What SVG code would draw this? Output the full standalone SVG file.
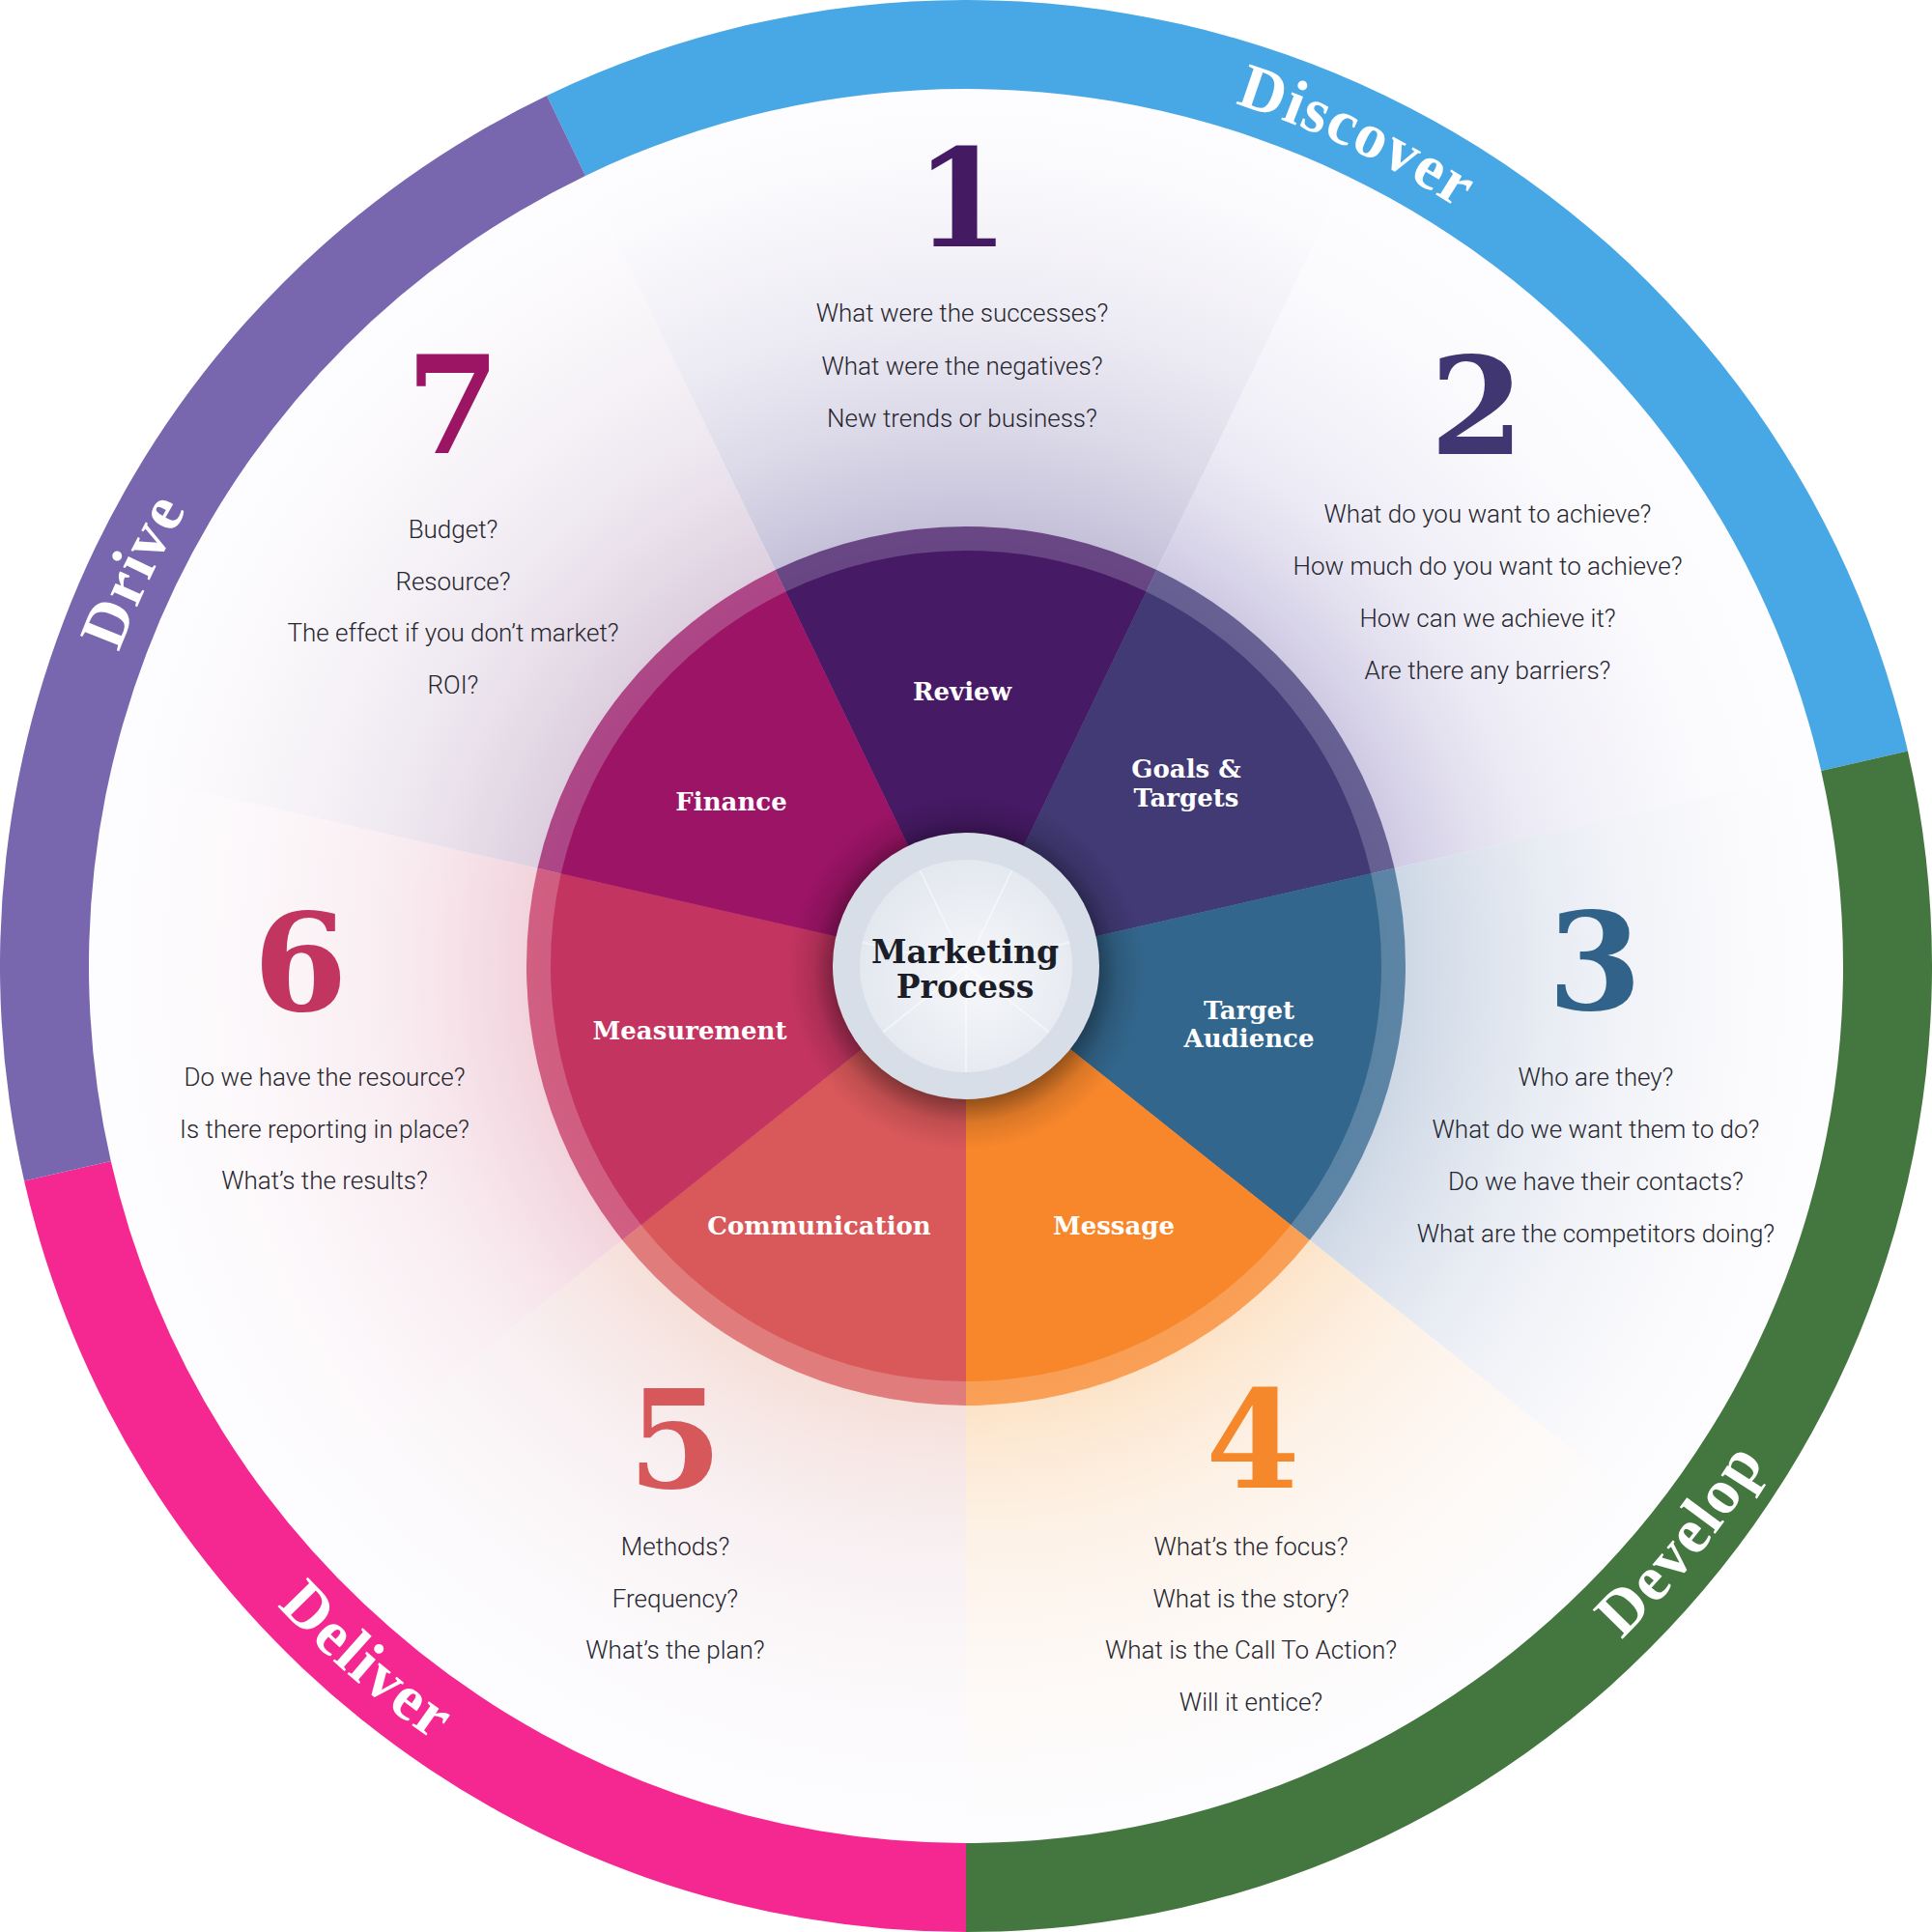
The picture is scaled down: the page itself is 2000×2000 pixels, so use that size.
<svg xmlns="http://www.w3.org/2000/svg" width="2000" height="2000" viewBox="0 0 2000 2000">
<defs>
<style>
.q{font-family:Roboto,"Open Sans","Liberation Sans",sans-serif;font-weight:300;font-size:26px;fill:#26262f;text-anchor:middle}
.num{font-family:"DejaVu Serif","Liberation Serif",serif;font-weight:bold;font-size:140px;text-anchor:middle}
.lbl{font-family:"DejaVu Serif","Liberation Serif",serif;font-weight:bold;font-size:26px;fill:#ffffff;text-anchor:middle}
.ring{font-family:"Liberation Serif","DejaVu Serif",serif;font-weight:bold;font-size:66px;fill:#ffffff;letter-spacing:1.5px;text-anchor:middle}
.band{opacity:0.73}
</style>
<path id="topArc" d="M 65,1000 A 935,935 0 1,1 1935,1000 A 935,935 0 1,1 65,1000"/>
<path id="botArc" d="M 27,1000 A 973,973 0 1,0 1973,1000 A 973,973 0 1,0 27,1000"/>
<radialGradient id="t1" gradientUnits="userSpaceOnUse" cx="1000" cy="1000" r="908">
<stop offset="0.45" stop-color="#b6b1cf" stop-opacity="0.95"/><stop offset="0.65" stop-color="#c9c5dc" stop-opacity="0.55"/><stop offset="0.9" stop-color="#e6e4ef" stop-opacity="0.18"/><stop offset="1" stop-color="#ffffff" stop-opacity="0"/>
</radialGradient>
<radialGradient id="t2" gradientUnits="userSpaceOnUse" cx="1000" cy="1000" r="908">
<stop offset="0.45" stop-color="#c0b9da" stop-opacity="0.95"/><stop offset="0.65" stop-color="#d6d2e8" stop-opacity="0.45"/><stop offset="0.9" stop-color="#eeedf5" stop-opacity="0.1"/><stop offset="1" stop-color="#ffffff" stop-opacity="0"/>
</radialGradient>
<radialGradient id="t3" gradientUnits="userSpaceOnUse" cx="1000" cy="1000" r="908">
<stop offset="0.45" stop-color="#c0cdde" stop-opacity="0.95"/><stop offset="0.65" stop-color="#d3dce8" stop-opacity="0.55"/><stop offset="0.9" stop-color="#eef1f6" stop-opacity="0.18"/><stop offset="1" stop-color="#ffffff" stop-opacity="0"/>
</radialGradient>
<radialGradient id="t4" gradientUnits="userSpaceOnUse" cx="1000" cy="1000" r="908">
<stop offset="0.45" stop-color="#fcdcb9" stop-opacity="0.95"/><stop offset="0.65" stop-color="#fde9d3" stop-opacity="0.55"/><stop offset="0.9" stop-color="#fef6ec" stop-opacity="0.2"/><stop offset="1" stop-color="#ffffff" stop-opacity="0"/>
</radialGradient>
<radialGradient id="t5" gradientUnits="userSpaceOnUse" cx="1000" cy="1000" r="908">
<stop offset="0.45" stop-color="#f5d8cd" stop-opacity="0.95"/><stop offset="0.65" stop-color="#f3e1e2" stop-opacity="0.5"/><stop offset="0.9" stop-color="#f7f2f5" stop-opacity="0.15"/><stop offset="1" stop-color="#ffffff" stop-opacity="0"/>
</radialGradient>
<radialGradient id="t6" gradientUnits="userSpaceOnUse" cx="1000" cy="1000" r="908">
<stop offset="0.45" stop-color="#efc6d2" stop-opacity="0.95"/><stop offset="0.65" stop-color="#f4dbe3" stop-opacity="0.5"/><stop offset="0.9" stop-color="#fbf1f4" stop-opacity="0.15"/><stop offset="1" stop-color="#ffffff" stop-opacity="0"/>
</radialGradient>
<radialGradient id="t7" gradientUnits="userSpaceOnUse" cx="1000" cy="1000" r="908">
<stop offset="0.45" stop-color="#d4c2d6" stop-opacity="0.95"/><stop offset="0.65" stop-color="#e0d4e2" stop-opacity="0.55"/><stop offset="0.9" stop-color="#f1ecf3" stop-opacity="0.18"/><stop offset="1" stop-color="#ffffff" stop-opacity="0"/>
</radialGradient>
<radialGradient id="shadow" gradientUnits="userSpaceOnUse" cx="1000" cy="1005" r="185">
<stop offset="0.72" stop-color="#000000" stop-opacity="0.4"/><stop offset="0.85" stop-color="#000000" stop-opacity="0.12"/><stop offset="1" stop-color="#000000" stop-opacity="0"/>
</radialGradient>
<radialGradient id="disc" cx="0.55" cy="0.55" r="0.6">
<stop offset="0" stop-color="#f6f7fa"/><stop offset="1" stop-color="#e2e7ee"/>
</radialGradient>
</defs>

<rect x="0" y="0" width="2000" height="2000" fill="#ffffff"/>

<g id="background">
<circle cx="1000" cy="1000" r="908" fill="#fdfcfe"/>
<path d="M1000,1000 L606.04,181.92 A908,908 0 0,1 1393.96,181.92 Z" fill="url(#t1)"/>
<path d="M1000,1000 L1393.96,181.92 A908,908 0 0,1 1885.24,797.95 Z" fill="url(#t2)"/>
<path d="M1000,1000 L1885.24,797.95 A908,908 0 0,1 1709.90,1566.13 Z" fill="url(#t3)"/>
<path d="M1000,1000 L1709.90,1566.13 A908,908 0 0,1 1000,1908 Z" fill="url(#t4)"/>
<path d="M1000,1000 L1000,1908 A908,908 0 0,1 290.10,1566.13 Z" fill="url(#t5)"/>
<path d="M1000,1000 L290.10,1566.13 A908,908 0 0,1 114.76,797.95 Z" fill="url(#t6)"/>
<path d="M1000,1000 L114.76,797.95 A908,908 0 0,1 606.04,181.92 Z" fill="url(#t7)"/>
</g>

<g id="ring-discover">
<path d="M1974.93,777.48 A1000,1000 0 0,0 566.12,99.03 L606.04,181.92 A908,908 0 0,1 1885.24,797.95 Z" fill="#48a7e5"/>
<text class="ring"><textPath href="#topArc" startOffset="1880">Discover</textPath></text>
</g>
<g id="ring-develop">
<path d="M1000,2000 A1000,1000 0 0,0 1974.93,777.48 L1885.24,797.95 A908,908 0 0,1 1000,1908 Z" fill="#44773f"/>
<text class="ring"><textPath href="#botArc" startOffset="2398">Develop</textPath></text>
</g>
<g id="ring-deliver">
<path d="M25.07,1222.52 A1000,1000 0 0,0 1000,2000 L1000,1908 A908,908 0 0,1 114.76,1202.05 Z" fill="#f52891"/>
<text class="ring"><textPath href="#botArc" startOffset="836">Deliver</textPath></text>
</g>
<g id="ring-drive">
<path d="M566.12,99.03 A1000,1000 0 0,0 25.07,1222.52 L114.76,1202.05 A908,908 0 0,1 606.04,181.92 Z" fill="#7866ae"/>
<text class="ring"><textPath href="#topArc" startOffset="414">Drive</textPath></text>
</g>

<g id="section-1">
<text class="num" x="996" y="255" fill="#441b63">1</text>
<text class="q" x="996" y="333">What were the successes?<tspan x="996" dy="54.5">What were the negatives?</tspan><tspan x="996" dy="54.5">New trends or business?</tspan></text>
</g>
<g id="section-2">
<text class="num" x="1529" y="470" fill="#3f3672">2</text>
<text class="q" x="1540" y="541">What do you want to achieve?<tspan x="1540" dy="54">How much do you want to achieve?</tspan><tspan x="1540" dy="54">How can we achieve it?</tspan><tspan x="1540" dy="54">Are there any barriers?</tspan></text>
</g>
<g id="section-3">
<text class="num" x="1651" y="1045" fill="#30628a">3</text>
<text class="q" x="1652" y="1124">Who are they?<tspan x="1652" dy="54">What do we want them to do?</tspan><tspan x="1652" dy="54">Do we have their contacts?</tspan><tspan x="1652" dy="54">What are the competitors doing?</tspan></text>
</g>
<g id="section-4">
<text class="num" x="1297" y="1540" fill="#f6882c">4</text>
<text class="q" x="1295" y="1610">What’s the focus?<tspan x="1295" dy="53.5">What is the story?</tspan><tspan x="1295" dy="53.5">What is the Call To Action?</tspan><tspan x="1295" dy="53.5">Will it entice?</tspan></text>
</g>
<g id="section-5">
<text class="num" x="699" y="1540" fill="#d6585b">5</text>
<text class="q" x="699" y="1610">Methods?<tspan x="699" dy="53.5">Frequency?</tspan><tspan x="699" dy="53.5">What’s the plan?</tspan></text>
</g>
<g id="section-6">
<text class="num" x="311" y="1046" fill="#c23560">6</text>
<text class="q" x="336" y="1124">Do we have the resource?<tspan x="336" dy="53.5">Is there reporting in place?</tspan><tspan x="336" dy="53.5">What’s the results?</tspan></text>
</g>
<g id="section-7">
<text class="num" x="469" y="469" fill="#9c1565">7</text>
<text class="q" x="469" y="557">Budget?<tspan x="469" dy="53.7">Resource?</tspan><tspan x="469" dy="53.7">The effect if you don’t market?</tspan><tspan x="469" dy="53.7">ROI?</tspan></text>
</g>

<g id="wedge-review">
<path class="band" d="M1000,1000 L802.58,590.06 A455,455 0 0,1 1197.42,590.06 Z" fill="#471a66"/>
<path d="M1000,1000 L813.43,612.58 A430,430 0 0,1 1186.57,612.58 Z" fill="#471a66"/>
<text class="lbl" x="996" y="725">Review</text>
</g>
<g id="wedge-goals">
<path class="band" d="M1000,1000 L1197.42,590.06 A455,455 0 0,1 1443.59,898.75 Z" fill="#413a75"/>
<path d="M1000,1000 L1186.57,612.58 A430,430 0 0,1 1419.22,904.32 Z" fill="#413a75"/>
<text class="lbl" x="1228" y="805">Goals &amp;<tspan x="1228" dy="30">Targets</tspan></text>
</g>
<g id="wedge-target">
<path class="band" d="M1000,1000 L1443.59,898.75 A455,455 0 0,1 1355.73,1283.69 Z" fill="#33668c"/>
<path d="M1000,1000 L1419.22,904.32 A430,430 0 0,1 1336.19,1268.10 Z" fill="#33668c"/>
<text class="lbl" x="1293" y="1055">Target<tspan x="1293" dy="29">Audience</tspan></text>
</g>
<g id="wedge-message">
<path class="band" d="M1000,1000 L1355.73,1283.69 A455,455 0 0,1 1000,1455 Z" fill="#f8872c"/>
<path d="M1000,1000 L1336.19,1268.10 A430,430 0 0,1 1000,1430 Z" fill="#f8872c"/>
<text class="lbl" x="1153" y="1278">Message</text>
</g>
<g id="wedge-communication">
<path class="band" d="M1000,1000 L1000,1455 A455,455 0 0,1 644.27,1283.69 Z" fill="#d9585a"/>
<path d="M1000,1000 L1000,1430 A430,430 0 0,1 663.81,1268.10 Z" fill="#d9585a"/>
<text class="lbl" x="848" y="1278">Communication</text>
</g>
<g id="wedge-measurement">
<path class="band" d="M1000,1000 L644.27,1283.69 A455,455 0 0,1 556.41,898.75 Z" fill="#c33461"/>
<path d="M1000,1000 L663.81,1268.10 A430,430 0 0,1 580.78,904.32 Z" fill="#c33461"/>
<text class="lbl" x="714" y="1076">Measurement</text>
</g>
<g id="wedge-finance">
<path class="band" d="M1000,1000 L556.41,898.75 A455,455 0 0,1 802.58,590.06 Z" fill="#9c1466"/>
<path d="M1000,1000 L580.78,904.32 A430,430 0 0,1 813.43,612.58 Z" fill="#9c1466"/>
<text class="lbl" x="757" y="839">Finance</text>
</g>

<g id="connectors"></g>

<g id="center">
<circle cx="1000" cy="1005" r="185" fill="url(#shadow)"/>
<circle cx="1000" cy="1000" r="138" fill="#d7dee7"/>
<circle cx="1000" cy="1000" r="110" fill="url(#disc)"/>
<g stroke="#ffffff" stroke-opacity="0.45" stroke-width="2">
<line x1="1000" y1="1000" x2="952.3" y2="900.9"/>
<line x1="1000" y1="1000" x2="1047.7" y2="900.9"/>
<line x1="1000" y1="1000" x2="1107.2" y2="975.5"/>
<line x1="1000" y1="1000" x2="1086" y2="1068.6"/>
<line x1="1000" y1="1000" x2="1000" y2="1110"/>
<line x1="1000" y1="1000" x2="914" y2="1068.6"/>
<line x1="1000" y1="1000" x2="892.8" y2="975.5"/>
</g>
<text class="lbl" x="999" y="997" style="fill:#1b1e29;font-size:33px">Marketing<tspan x="999" dy="36">Process</tspan></text>
</g>
</svg>
